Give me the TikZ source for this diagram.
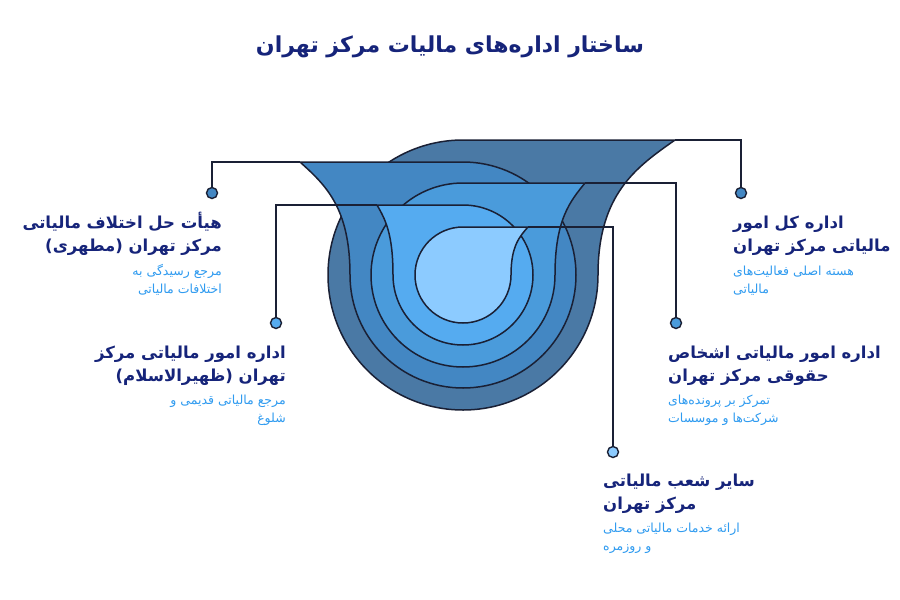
\documentclass[tikz,border=0pt]{standalone}
\usepackage{fontspec}
\newfontfamily\fa[Script=Arabic]{DejaVu Sans}
\TeXXeTstate=1
\newcommand{\rl}[1]{\beginR #1\endR}
\definecolor{cA}{HTML}{4A79A5}
\definecolor{cB}{HTML}{4387C3}
\definecolor{cC}{HTML}{4A9BDB}
\definecolor{cD}{HTML}{55ABF0}
\definecolor{cE}{HTML}{8CCBFF}
\definecolor{ink}{HTML}{1A2035}
\definecolor{navy}{HTML}{16247A}
\definecolor{sub}{HTML}{2F9BF0}
\begin{document}
\begin{tikzpicture}[x=1pt,y=-1pt,
  shp/.style={draw=ink,line width=1.5pt,line join=round},
  con/.style={draw=ink,line width=1.6pt},
  dot/.style={circle,draw=ink,line width=1.4pt,minimum size=11pt,inner sep=0pt},
  head/.style={font=\fa\bfseries\fontsize{16.5}{23}\selectfont,text=navy,inner sep=0pt},
  subt/.style={font=\fa\fontsize{12.5}{18}\selectfont,text=sub,inner sep=0pt}]
\useasboundingbox[fill=white] (0,0) rectangle (900,600);
\def\cx{463}\def\cy{275}
\newcommand{\rspout}[3]{%
  \fill[#3] (\cx,\cy-#1) -- (#2,\cy-#1) .. controls ({#2-0.5*(#2-\cx-#1)},{\cy-#1+0.2*#1}) and (\cx+#1,{\cy-0.6*#1}) .. (\cx+#1,\cy)
    arc[start angle=0,end angle=270,radius=#1] -- cycle;
  \draw[shp] (\cx,\cy-#1) -- (#2,\cy-#1) .. controls ({#2-0.5*(#2-\cx-#1)},{\cy-#1+0.2*#1}) and (\cx+#1,{\cy-0.6*#1}) .. (\cx+#1,\cy)
    arc[start angle=0,end angle=270,radius=#1] -- cycle;}
\newcommand{\lspout}[3]{%
  \fill[#3] (\cx,\cy-#1) -- (#2,\cy-#1) .. controls ({#2+0.5*(\cx-#1-#2)},{\cy-#1+0.2*#1}) and (\cx-#1,{\cy-0.6*#1}) .. (\cx-#1,\cy)
    arc[start angle=180,end angle=-90,radius=#1] -- cycle;
  \draw[shp] (\cx,\cy-#1) -- (#2,\cy-#1) .. controls ({#2+0.5*(\cx-#1-#2)},{\cy-#1+0.2*#1}) and (\cx-#1,{\cy-0.6*#1}) .. (\cx-#1,\cy)
    arc[start angle=180,end angle=-90,radius=#1] -- cycle;}
\rspout{135}{675}{cA}
\lspout{113}{300}{cB}
\rspout{92}{585}{cC}
\lspout{70}{377}{cD}
\rspout{48}{528}{cE}
\coordinate (t1) at (675,140);
\coordinate (t2) at (300,162);
\coordinate (t3) at (585,183);
\coordinate (t4) at (377,205);
\coordinate (t5) at (528,227);
\node[dot,fill=cB] (d1) at (741,193) {};
\node[dot,fill=cB] (d2) at (212,193) {};
\node[dot,fill=cC] (d3) at (676,323) {};
\node[dot,fill=cD] (d4) at (276,323) {};
\node[dot,fill=cE] (d5) at (613,452) {};
\draw[con] (t1) -| (d1.north);
\draw[con] (t2) -| (d2.north);
\draw[con] (t3) -| (d3.north);
\draw[con] (t4) -| (d4.north);
\draw[con] (t5) -| (d5.north);
\node[font=\fa\bfseries\fontsize{22}{26}\selectfont,text=navy,inner sep=0pt] (title) at (450,47) {\rl{ساختار اداره‌های مالیات مرکز تهران}};
\node[head,anchor=base west,align=left] (h1) at (733,251) {\rl{اداره کل امور}\\\rl{مالیاتی مرکز تهران}};
\node[subt,anchor=base west,align=left] (s1) at (733,293) {\rl{هسته اصلی فعالیت‌های}\\\rl{مالیاتی}};
\node[head,anchor=base west,align=left] (h3) at (668,381) {\rl{اداره امور مالیاتی اشخاص}\\\rl{حقوقی مرکز تهران}};
\node[subt,anchor=base west,align=left] (s3) at (668,422) {\rl{تمرکز بر پرونده‌های}\\\rl{شرکت‌ها و موسسات}};
\node[head,anchor=base west,align=left] (h5) at (603,509) {\rl{سایر شعب مالیاتی}\\\rl{مرکز تهران}};
\node[subt,anchor=base west,align=left] (s5) at (603,550) {\rl{ارائه خدمات مالیاتی محلی}\\\rl{و روزمره}};
\node[head,anchor=base east,align=right] (h2) at (222,251) {\rl{هیأت حل اختلاف مالیاتی}\\\rl{مرکز تهران (مطهری)}};
\node[subt,anchor=base east,align=right] (s2) at (222,293) {\rl{مرجع رسیدگی به}\\\rl{اختلافات مالیاتی}};
\node[head,anchor=base east,align=right] (h4) at (286,381) {\rl{اداره امور مالیاتی مرکز}\\\rl{تهران (ظهیرالاسلام)}};
\node[subt,anchor=base east,align=right] (s4) at (286,422) {\rl{مرجع مالیاتی قدیمی و}\\\rl{شلوغ}};
\end{tikzpicture}
\end{document}
